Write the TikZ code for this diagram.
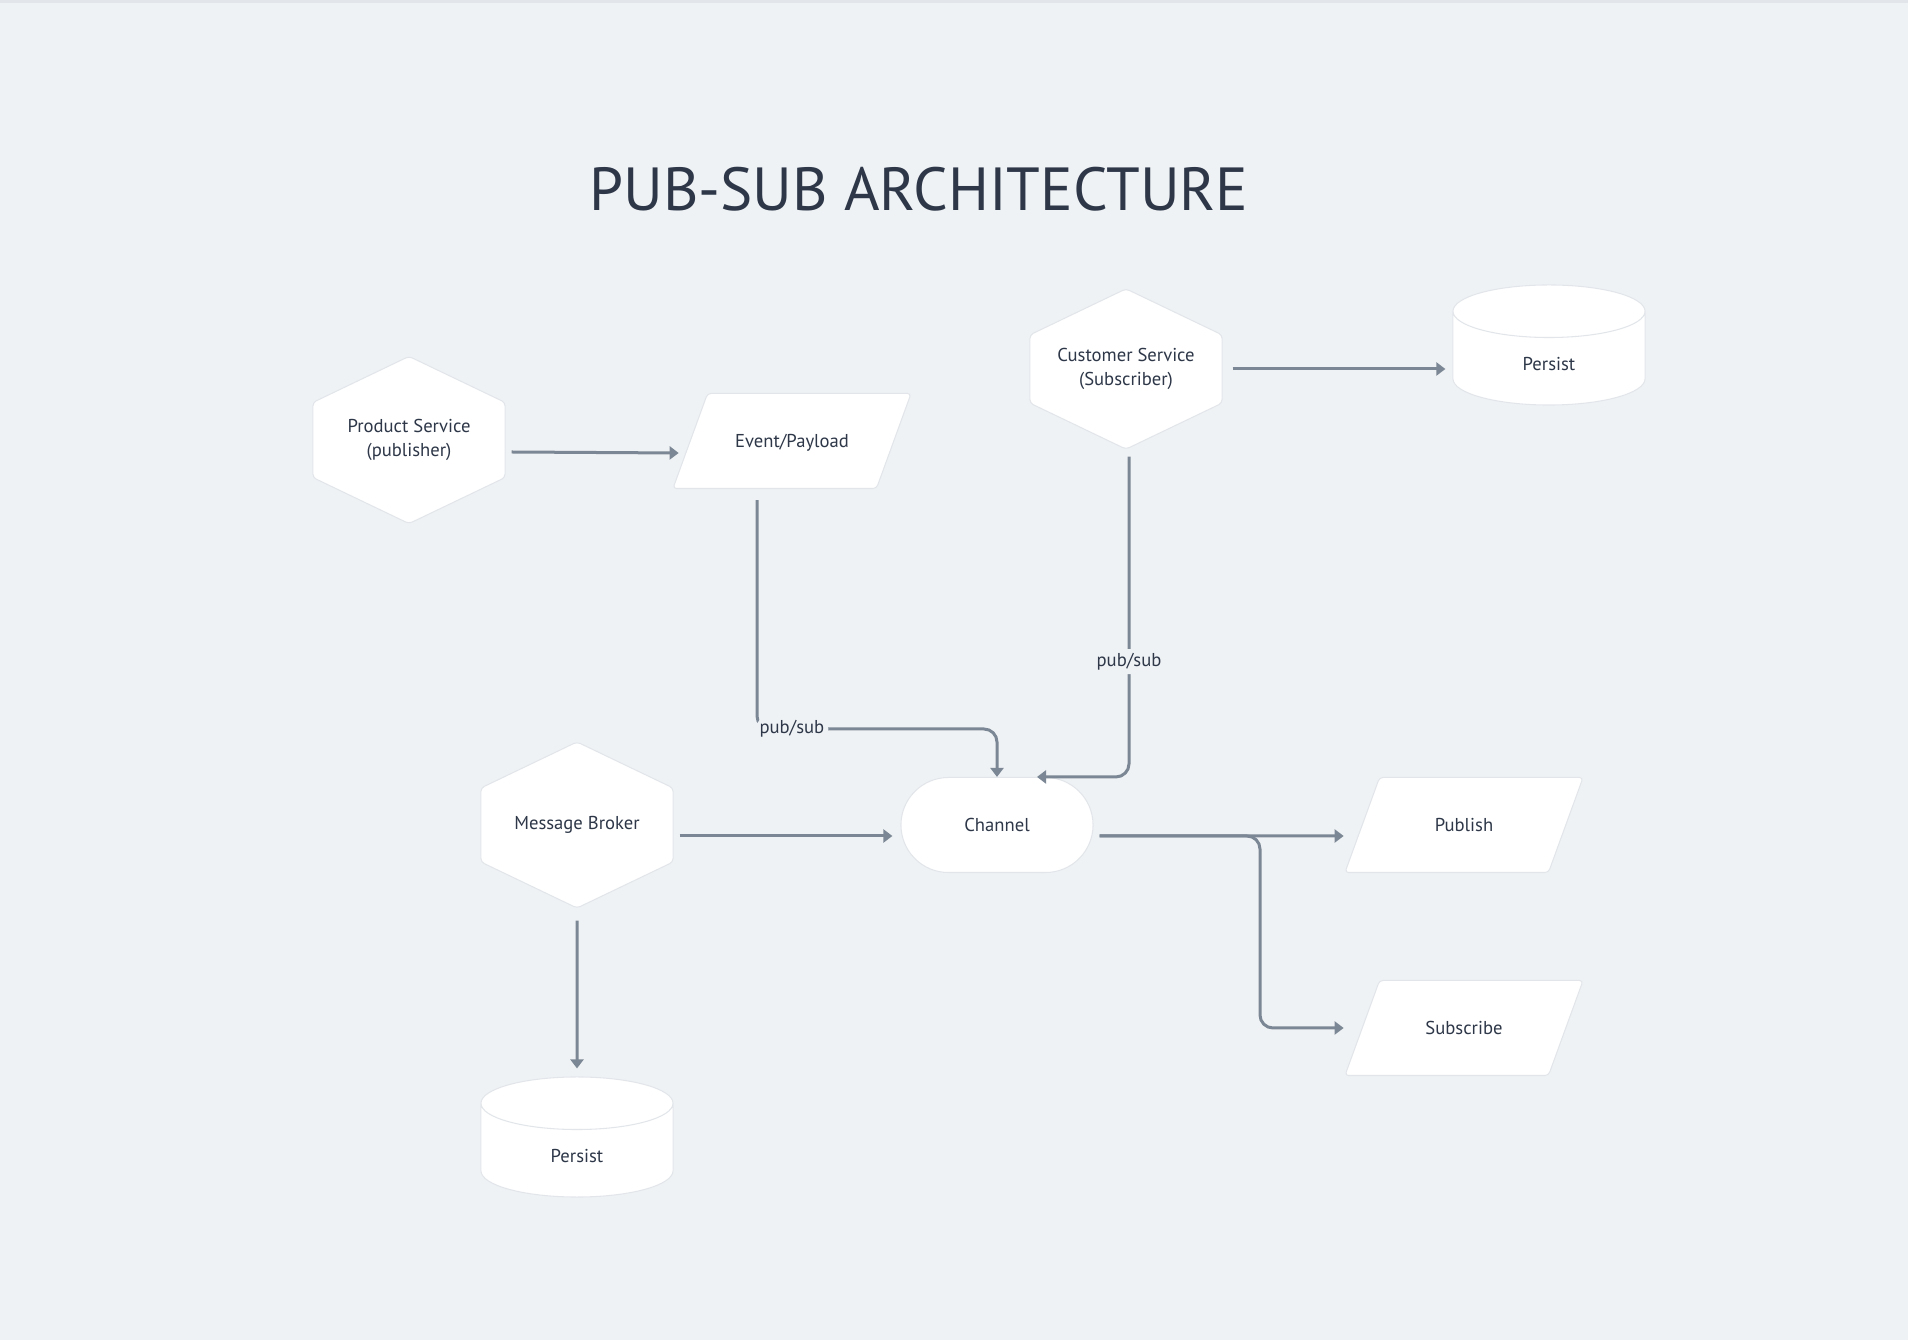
\documentclass[tikz,border=0pt]{standalone}
\usepackage{fontspec}
\setmainfont{PT Sans}
\usepackage{tikz}
\usetikzlibrary{shapes.geometric, shapes.symbols, shapes.misc, arrows.meta, positioning}
\definecolor{bgcol}{HTML}{EFF2F5}
\definecolor{linecol}{HTML}{7B8794}
\definecolor{textcol}{HTML}{2D3748}
\definecolor{edgecol}{HTML}{E2E6EA}
\newcommand{\nodefont}{\fontsize{5.3pt}{7pt}\selectfont}
\tikzstyle{shapebase} = [fill=white, draw=edgecol, line width=0.3pt, text=textcol, font=\nodefont, align=center, inner sep=0pt]
\tikzstyle{hexnode} = [shapebase, signal, signal to=north and south, signal pointer angle=128.8, minimum width=1.92cm, minimum height=1.34cm, rounded corners=1pt]
\tikzstyle{paranode} = [shapebase, trapezium, trapezium left angle=70, trapezium right angle=110, trapezium stretches body=true, text height=0.54cm, text depth=0.41cm, minimum width=2.38cm, rounded corners=1pt]
\tikzstyle{dbnode} = [shapebase, cylinder, shape border rotate=90, aspect=1, text height=0.24cm, minimum width=1.92cm, minimum height=1.2cm, anchor=shape center]
\tikzstyle{pillnode} = [shapebase, rounded rectangle, minimum width=1.92cm, minimum height=0.95cm]
\tikzstyle{tag} = [fill=bgcol, text=textcol, font=\nodefont, inner sep=0.04cm]
\tikzstyle{heading} = [text=textcol, font=\fontsize{17.3pt}{20pt}\selectfont]
\tikzstyle{arrowline} = [draw=linecol, line width=0.03cm, rounded corners=0.13cm, -{Triangle[width=0.13cm,length=0.09cm]}]

\begin{document}
\begin{tikzpicture}[x=0.01cm, y=-0.01cm]
	\fill [bgcol] (0,0) rectangle (1908,1340);
	\fill [edgecol] (0,0) rectangle (1908,3);

	\node [heading] (title) at (919,189) {PUB-SUB ARCHITECTURE};

	\node [hexnode] (prod) at (409,440) {Product Service\\(publisher)};
	\node [paranode] (event) at (792,441) {Event/Payload};
	\node [hexnode] (cust) at (1126,369) {Customer Service\\(Subscriber)};
	\node [dbnode] (store1) at (1549,345) {Persist};
	\node [hexnode] (broker) at (577,825) {Message Broker};
	\node [pillnode] (chan) at (997,825) {Channel};
	\node [paranode] (pub) at (1464,825) {Publish};
	\node [paranode] (sub) at (1464,1028) {Subscribe};
	\node [dbnode] (store2) at (577,1137) {Persist};

	\coordinate (bend1) at (757,729);
	\coordinate (fork) at (1260,836);

	\path [arrowline] ([shift={(6,12)}]prod.east) -- ([shift={(-11,12)}]event.west);
	\path [arrowline, shorten >=0.07cm] ([xshift=0.1cm]cust.east) -- (store1.west |- cust.east);
	\path [arrowline, shorten <=0.11cm] (event.south -| bend1) -- (bend1) node [tag, anchor=west, xshift=-0.03cm] {pub/sub} -| (chan.north);
	\path [arrowline] ([shift={(3,7)}]cust.south) |- node [tag, pos=0.32] {pub/sub} ([xshift=0.4cm]chan.north);
	\path [arrowline] ([shift={(6,11)}]broker.east) -- ([shift={(-8,11)}]chan.west);
	\path [arrowline] ([shift={(0,12)}]broker.south) -- ([shift={(0,-8)}]store2.north);
	\path [arrowline] ([shift={(6,11)}]chan.east) -- ([shift={(-18,11)}]pub.west);
	\path [arrowline] ([shift={(6,11)}]chan.east) -- (fork) |- ([xshift=-0.18cm]sub.west);
\end{tikzpicture}
\end{document}
